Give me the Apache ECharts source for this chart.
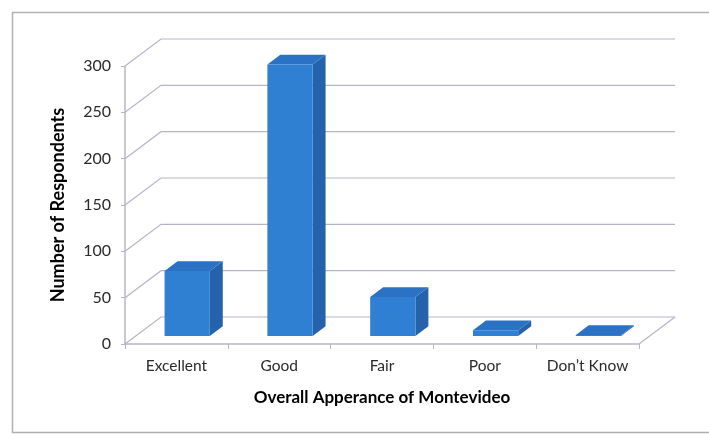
<!DOCTYPE html>
<html>
<head>
<meta charset="utf-8">
<script src="https://cdn.jsdelivr.net/npm/echarts@6/dist/echarts.min.js"></script>
<style>
html,body{margin:0;padding:0;background:#fff;}
#c{width:709px;height:440px;}
</style>
</head>
<body>
<div id="c"></div>
<script>
// ---- data ----
var categories = ['Excellent', 'Good', 'Fair', 'Poor', "Don\u2019t Know"];
var respondents = [70, 293, 42, 6, 1];
var yTicks = [0, 50, 100, 150, 200, 250, 300];
var xAxisTitle = 'Overall Apperance of Montevideo';
var yAxisTitle = 'Number of Respondents';

// ---- styling ----
var DX = 36, DY = -27;          // depth offset of back wall (px)
var BAR_F1 = 0.30, BAR_F2 = 0.66; // bar front/back depth fraction
var BAR_W = 0.44;                // bar width as fraction of band
var GRID_COLOR = '#b8b4c8';
var FONT = 'Lato, "Open Sans", sans-serif';

var chart = echarts.init(document.getElementById('c'));

function wallsRender(params, api) {
  var children = [];
  var n = categories.length;
  var bw = api.size([1, 0])[0];
  var x0 = api.coord([0, 0])[0] - bw / 2;
  var x1 = api.coord([n - 1, 0])[0] + bw / 2;
  var lineStyle = {stroke: GRID_COLOR, lineWidth: 1.2, fill: null};
  yTicks.forEach(function (v) {
    var y = api.coord([0, v])[1];
    children.push({
      type: 'polyline',
      shape: {points: [[x0, y], [x0 + DX, y + DY], [x1 + DX, y + DY]]},
      style: lineStyle, silent: true
    });
  });
  var y0 = api.coord([0, 0])[1];
  children.push({
    type: 'polyline',
    shape: {points: [[x1 + DX, y0 + DY], [x1, y0]]},
    style: lineStyle, silent: true
  });
  return {type: 'group', children: children};
}

function barRender(params, api) {
  var idx = api.value(0);
  var val = api.value(1);
  var base = api.coord([idx, 0]);
  var top = api.coord([idx, val]);
  var bw = api.size([1, 0])[0];
  var w = bw * BAR_W;
  var ox = BAR_F1 * DX, oy = BAR_F1 * DY;
  var dx = (BAR_F2 - BAR_F1) * DX, dy = (BAR_F2 - BAR_F1) * DY;
  var L = base[0] - w / 2 + ox, R = base[0] + w / 2 + ox;
  var T = top[1] + oy, B = base[1] + oy;
  return {
    type: 'group',
    children: [
      {type: 'polygon', shape: {points: [[R, T], [R + dx, T + dy], [R + dx, B + dy], [R, B]]},
        style: {fill: '#2462ac'}},
      {type: 'polygon', shape: {points: [[L, T], [R, T], [R + dx, T + dy], [L + dx, T + dy]]},
        style: {fill: '#2b72c4'}},
      {type: 'rect', shape: {x: L, y: T, width: R - L, height: B - T},
        style: {fill: '#2f80d2'}}
    ]
  };
}

var option = {
  backgroundColor: '#ffffff',
  animation: false,
  graphic: [{
    type: 'rect', left: 10, top: 10, z: -10,
    shape: {width: 720, height: 420},
    style: {fill: 'none', stroke: '#b0b0b0', lineWidth: 1.5}
  }],
  grid: {left: 125, right: 70, top: 66, bottom: 96},
  xAxis: {
    type: 'category',
    data: categories,
    boundaryGap: true,
    axisLine: {show: true, lineStyle: {color: GRID_COLOR, width: 1.5}},
    axisTick: {show: true, length: 5, lineStyle: {color: GRID_COLOR}},
    axisLabel: {color: '#2a2a2a', fontSize: 15.5, fontFamily: FONT, margin: 14, interval: 0},
    name: xAxisTitle,
    nameLocation: 'middle',
    nameGap: 45,
    nameTextStyle: {color: '#000', fontSize: 17, fontWeight: 'bold', fontFamily: FONT}
  },
  yAxis: {
    type: 'value',
    min: 0, max: 300, interval: 50,
    axisLine: {show: true, lineStyle: {color: GRID_COLOR, width: 1.5}},
    axisTick: {show: true, length: 4, lineStyle: {color: GRID_COLOR}},
    splitLine: {show: false},
    axisLabel: {color: '#2a2a2a', fontSize: 16, fontFamily: FONT, margin: 14},
    name: yAxisTitle,
    nameLocation: 'middle',
    nameGap: 58,
    nameRotate: 90,
    nameTextStyle: {color: '#000', fontSize: 18, fontWeight: 'bold', fontFamily: FONT}
  },
  series: [
    {
      type: 'custom',
      renderItem: wallsRender,
      data: [[0, 0]],
      z: 1,
      silent: true
    },
    {
      type: 'custom',
      renderItem: barRender,
      data: respondents.map(function (v, i) { return [i, v]; }),
      z: 5
    }
  ]
};
chart.setOption(option);
</script>
</body>
</html>
